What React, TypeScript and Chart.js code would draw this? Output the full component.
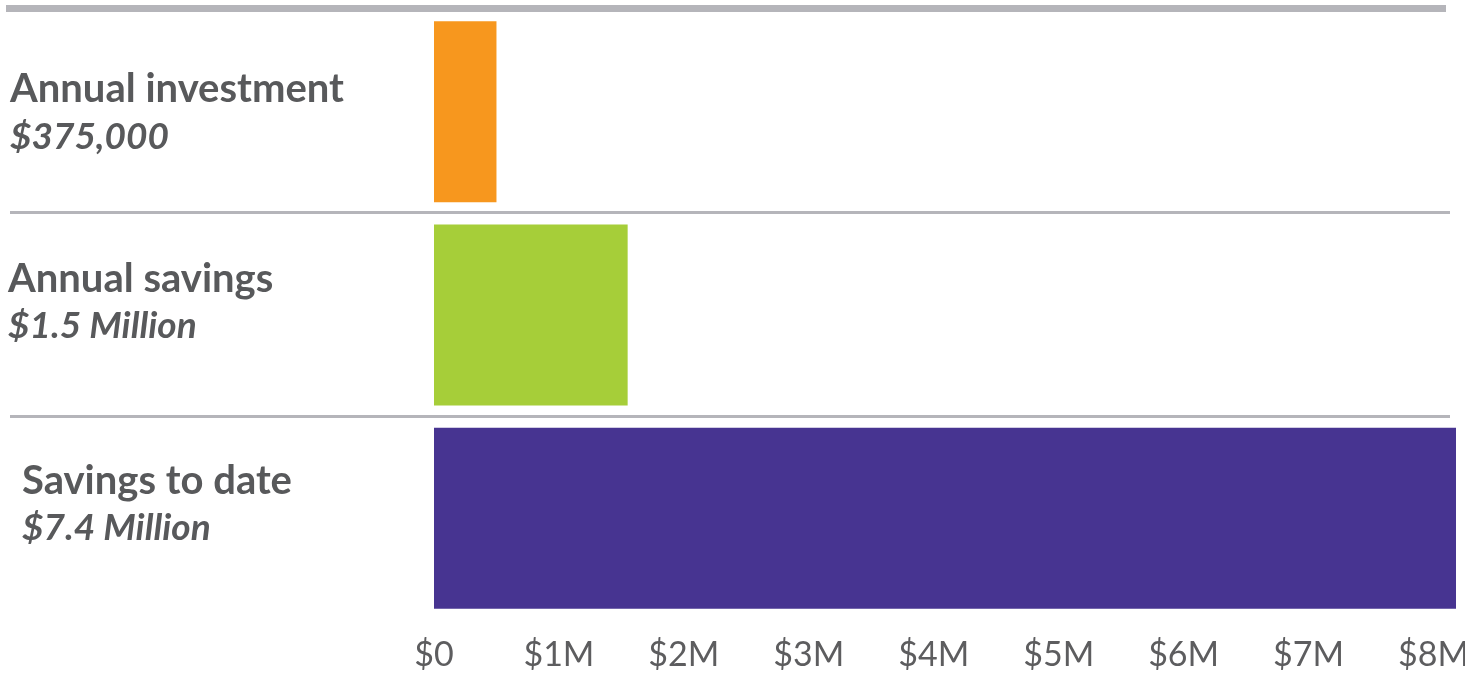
import React, { useEffect, useRef } from "react";
import { Chart, registerables } from "chart.js";

Chart.register(...registerables);

const categories = ["Annual investment", "Annual savings", "Savings to date"];
const categoryAmounts = ["$375,000", "$1.5 Million", "$7.4 Million"];
// bar lengths as drawn against the axis (millions of dollars)
const barValues = [0.5, 1.55, 8.18];
const barColors = ["#F7971E", "#A6CE39", "#473491"];
const axisMax = 8.18;
const tickStep = 1;
const formatTick = (v: number) => (v === 0 ? "$0" : `$${v}M`);

const FONT = "Lato, 'Noto Sans', sans-serif";
const TEXT = "#58595B";
const LINE = "#B5B5BA";
const labelIndent = [10, 8, 22];
const labelShiftY = [14, 0, -1];

const leftLabels = {
  id: "leftLabels",
  afterDraw(chart: any) {
    const { ctx, chartArea } = chart;
    const y = chart.scales.y;
    ctx.save();
    // top rule
    ctx.fillStyle = LINE;
    ctx.fillRect(6, chartArea.top - 5, 1440, 7);
    // separators between categories
    for (let i = 1; i < categories.length; i++) {
      const yy = (y.getPixelForValue(i - 1) + y.getPixelForValue(i)) / 2;
      ctx.fillRect(10, Math.round(yy) - 2, 1440, 3);
    }
    ctx.fillStyle = TEXT;
    ctx.textAlign = "left";
    ctx.textBaseline = "alphabetic";
    categories.forEach((c, i) => {
      const cy = y.getPixelForValue(i) + labelShiftY[i];
      ctx.font = `bold 40px ${FONT}`;
      ctx.fillText(c, labelIndent[i], cy - 23.5);
      ctx.font = `italic bold 37px ${FONT}`;
      ctx.fillText(categoryAmounts[i], labelIndent[i], cy + 23);
    });
    ctx.restore();
  },
};

export default function App() {
  const ref = useRef<HTMLCanvasElement | null>(null);
  useEffect(() => {
    document.body.style.margin = "0";
    const chart = new Chart(ref.current as HTMLCanvasElement, {
      type: "bar",
      data: {
        labels: categories,
        datasets: [
          {
            data: barValues,
            backgroundColor: barColors,
            borderWidth: 0,
            barPercentage: 0.89,
            categoryPercentage: 1,
          },
        ],
      },
      options: {
        indexAxis: "y",
        animation: false,
        responsive: false,
        layout: { padding: { left: 434, right: 9, top: 10, bottom: 0 } },
        plugins: { legend: { display: false }, tooltip: { enabled: false } },
        scales: {
          y: { display: false },
          x: {
            min: 0,
            max: axisMax,
            grid: { display: false, drawTicks: false },
            border: { display: false },
            afterFit: (s: any) => {
              s.paddingLeft = 0;
              s.paddingRight = 0;
              s.height = 65;
            },
            ticks: {
              stepSize: tickStep,
              includeBounds: false,
              maxRotation: 0,
              autoSkip: false,
              color: "#5D5D5F",
              padding: 15,
              font: { family: FONT, size: 34 },
              callback: (v: any) => formatTick(Number(v)),
            },
          },
        },
      },
      plugins: [leftLabels],
    });
    return () => chart.destroy();
  }, []);
  return (
    <div style={{ position: "absolute", left: 0, top: 0, width: 1465, height: 685 }}>
      <canvas ref={ref} width={1465} height={685} />
    </div>
  );
}
